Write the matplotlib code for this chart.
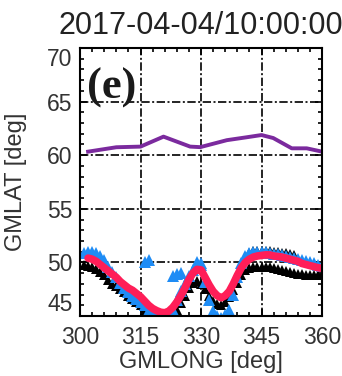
import matplotlib
matplotlib.use("Agg")
import matplotlib.pyplot as plt
from matplotlib.ticker import MultipleLocator

plt.rcParams["font.family"] = ["Liberation Sans", "DejaVu Sans"]

title = "2017-04-04/10:00:00"
panel = "(e)"

# purple line (upper boundary)
purple_lon = [302, 309, 315, 320.7, 327.3, 329.8, 336.4, 341.3, 345, 347.9, 352.5, 356.2, 360]
purple_lat = [60.33, 60.74, 60.8, 61.73, 60.8, 60.75, 61.4, 61.67, 61.88, 61.6, 60.64, 60.64, 60.33]

lon = list(range(301, 361))

black_lat = [49.8, 49.7, 49.6, 49.4, 49.1, 48.8, 48.4, 48.0, 47.8, 47.5,
             47.2, 46.9, 46.6, 46.3, 46.0, 45.6, 45.3, 45.1, 44.9, 44.8,
             44.8, 44.9, 45.1, 45.6, 46.2, 46.9, 47.6, 48.1, 48.3, 48.0,
             47.5, 46.9, 46.4, 46.1, 46.0, 46.3, 46.8, 47.4, 48.1, 48.8,
             49.3, 49.5, 49.6, 49.6, 49.6, 49.6, 49.6, 49.5, 49.4, 49.3,
             49.2, 49.1, 49.0, 48.9, 48.9, 48.8, 48.8, 48.8, 48.8, 48.8]
black_up_lon = [342, 343, 344, 345, 346, 347, 348, 349, 350, 351, 352, 353]
black_up_lat = [51.0, 51.2, 51.2, 51.2, 51.2, 51.2, 51.1, 51.1, 51.0, 51.0, 50.9, 50.8]

blue_lat = [50.9, 51.0, 51.0, 50.9, 50.6, 50.2, 49.6, 49.1, 48.6, 48.1,
            47.6, 47.2, 46.9, 46.6, 46.3, 46.0, 45.6, 45.3, 45.0, 44.9,
            44.9, 45.1, 45.6, 46.5, 47.3, 48.0, 48.7, 49.3, 49.8, 49.9,
            48.2, 46.5, 45.5, 45.0, 44.8, 45.1, 45.6, 47.0, 48.6, 49.9,
            50.6, 50.9, 51.0, 51.0, 51.0, 51.0, 50.9, 50.8, 50.8, 50.7,
            50.6, 50.5, 50.4, 50.3, 50.2, 50.1, 50.0, 49.9, 49.8, 49.7]
blue_extra_lon = [316, 317, 323, 324, 325, 329, 330, 319, 321, 333, 334, 335, 336, 337]
blue_extra_lat = [50.0, 50.2, 48.7, 48.9, 49.0, 50.0, 49.8, 44.7, 44.7, 44.7, 44.6, 44.7, 44.8, 45.0]

red_lon = list(range(302, 361))
red_lat = [50.4, 50.3, 50.1, 49.8, 49.5, 49.2, 48.9, 48.6, 48.2, 47.9,
           47.6, 47.4, 47.1, 46.8, 46.4, 46.0, 45.7, 45.5, 45.35, 45.3,
           45.45, 45.8, 46.3, 46.9, 47.6, 48.4, 49.0, 49.35, 49.3, 48.6,
           47.9, 47.3, 46.9, 46.7, 46.9, 47.3, 48.0, 48.8, 49.5, 50.0,
           50.3, 50.5, 50.6, 50.65, 50.7, 50.7, 50.6, 50.55, 50.5, 50.4,
           50.3, 50.2, 50.1, 49.9, 49.8, 49.7, 49.6, 49.5, 49.45]

fig = plt.figure(figsize=(3.42, 3.76), dpi=100)
ax = fig.add_axes([0.234, 0.1596, 0.7076, 0.7128])

ax.plot(lon, black_lat, "^", color="black", ms=7.5, mew=0)
ax.plot(black_up_lon, black_up_lat, "^", color="black", ms=6, mew=0)
ax.plot(lon, blue_lat, "^", color="#1E8CF5", ms=8.5, mew=0)
ax.plot(blue_extra_lon, blue_extra_lat, "^", color="#1E8CF5", ms=8.5, mew=0)
ax.plot(red_lon, red_lat, color="#FF1E58", lw=5.5, solid_capstyle="round")
ax.plot(purple_lon, purple_lat, color="#7B2A9E", lw=2.8)

ax.set_xlim(300, 360)
ax.set_ylim(45, 70)
ax.xaxis.set_major_locator(MultipleLocator(15))
ax.xaxis.set_minor_locator(MultipleLocator(3))
ax.yaxis.set_major_locator(MultipleLocator(5))
ax.yaxis.set_minor_locator(MultipleLocator(1))
ax.tick_params(which="both", direction="in", top=True, right=True,
               labelsize=16.5, labelcolor="#333333")
ax.tick_params(which="major", length=5, width=1.2)
ax.tick_params(which="minor", length=3, width=1.2)
ax.tick_params(axis="y", pad=5.5)
ax.tick_params(axis="x", pad=7)
for s in ax.spines.values():
    s.set_linewidth(1.5)

ax.grid(True, which="major", color="black", lw=1.2, linestyle=(0, (5, 1.5, 1.2, 1.5)))

fig.canvas.draw()
for t in ax.get_yticklabels():
    if t.get_text() == "45":
        t.set_va("bottom")
    if t.get_text() == "70":
        t.set_va("top")

ax.set_xlabel("GMLONG [deg]", fontsize=17, color="#333333", labelpad=2)
ax.set_ylabel("GMLAT [deg]", fontsize=17, color="#333333")
ax.yaxis.set_label_coords(-0.22, 0.5)
ax.set_title(title, fontsize=22, color="#222222", pad=10)
ax.text(0.029, 0.813, panel, transform=ax.transAxes, fontsize=32,
        fontweight="bold", family="Liberation Serif", color="#1a1a1a",
        va="baseline", ha="left")

fig.savefig("out.png", dpi=100)
